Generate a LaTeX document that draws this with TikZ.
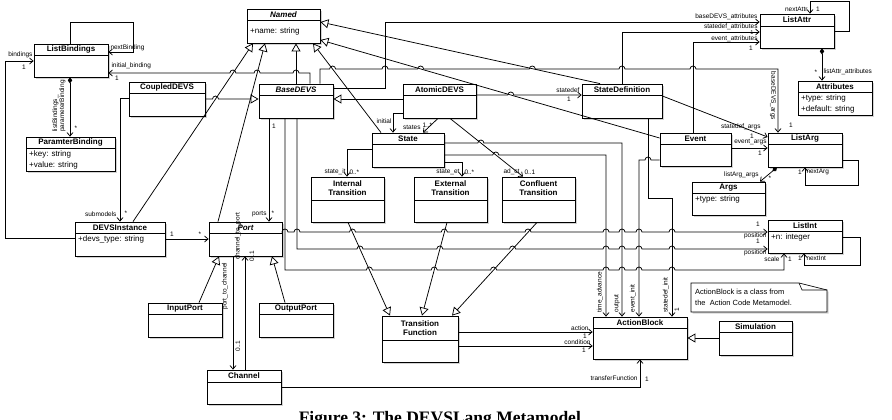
\documentclass[tikz,border=0pt]{standalone}
\usepackage{fontspec}
\setmainfont{Liberation Sans}
\newfontfamily\capfont{Liberation Serif}
\usetikzlibrary{arrows.meta,shadows}
\tikzset{
 cls/.style={draw, line width=0.8pt, fill=white, inner sep=0pt,
   drop shadow={shadow xshift=1.6pt, shadow yshift=-1.6pt, opacity=0.35}},
 ttl/.style={font=\fontsize{8}{9}\selectfont\bfseries, inner sep=0pt},
 attr/.style={font=\fontsize{8}{9}\selectfont, inner sep=0pt, anchor=west},
 lbl/.style={font=\fontsize{6.5}{7}\selectfont, inner sep=0.3pt},
 conn/.style={line width=0.75pt},
 assoc/.style={conn, -{Straight Barb[length=3.5pt,width=6pt]}},
 gen/.style={conn, -{Triangle[open,length=8pt,width=9pt,fill=white]}},
 comp/.style={conn, {Diamond[length=6pt,width=4.5pt]}-{Straight Barb[length=3.5pt,width=6pt]}},
}
\newcommand\umlcls[8]{%
 \node[cls, minimum width={(#4-#2)*1pt}, minimum height={(#5-#3)*1pt}] (#1) at ({(#2+#4)/2},{(#3+#5)/2}) {};
 \draw[line width=0.8pt] (#2,#6) -- (#4,#6);
 \node[ttl,align=center,#8] (#1-t) at ({(#2+#4)/2},{(#3+#6)/2}) {#7};
}
\begin{document}
\begin{tikzpicture}[x=1pt,y=-1pt]
\useasboundingbox (0,0) rectangle (892,420);
% ---------- classes ----------
\umlcls{named}{247}{9}{320}{43}{20}{Named}{font=\fontsize{8}{9}\selectfont\bfseries\itshape}
\node[attr] (named-a) at (250,31) {+name: string};
\umlcls{lb}{34}{44}{108}{77}{55}{ListBindings}{}
\umlcls{pb}{26}{137}{115}{171}{148}{ParamterBinding}{}
\node[attr] (pb-a) at (29,154) {+key: string};
\node[attr] (pb-b) at (29,165) {+value: string};
\umlcls{cd}{129}{82}{205}{116}{93}{CoupledDEVS}{}
\umlcls{bd}{259}{84}{333}{118}{95}{BaseDEVS}{font=\fontsize{8}{9}\selectfont\bfseries\itshape}
\umlcls{ad}{403}{84}{476}{118}{95}{AtomicDEVS}{}
\umlcls{sd}{582}{84}{662}{118}{95}{StateDefinition}{}
\umlcls{la}{760}{14}{834}{48}{26}{ListAttr}{}
\umlcls{at}{798}{81}{872}{115}{92}{Attributes}{}
\node[attr] (at-a) at (801,98) {+type: string};
\node[attr] (at-b) at (801,109) {+default: string};
\umlcls{st}{372}{133}{444}{167}{144}{State}{}
\umlcls{ev}{660}{133}{731}{166}{144}{Event}{}
\umlcls{larg}{768}{133}{842}{167}{144}{ListArg}{}
\umlcls{args}{692}{182}{765}{215}{193}{Args}{}
\node[attr] (args-a) at (695,199) {+type: string};
\umlcls{li}{768}{220}{842}{253}{231}{ListInt}{}
\node[attr] (li-a) at (771,237) {+n: integer};
\umlcls{it}{311}{177}{384}{222}{200}{Internal\\Transition}{}
\umlcls{et}{414}{177}{487}{222}{200}{External\\Transition}{}
\umlcls{ct}{502}{177}{575}{222}{200}{Confluent\\Transition}{}
\umlcls{di}{75}{222}{165}{256}{233}{DEVSInstance}{}
\node[attr] (di-a) at (78,239) {+devs\_type: string};
\umlcls{port}{209}{222}{282}{256}{233}{Port}{font=\fontsize{8}{9}\selectfont\bfseries\itshape}
\umlcls{ip}{148}{303}{222}{337}{314}{InputPort}{}
\umlcls{op}{259}{303}{333}{337}{314}{OutputPort}{}
\umlcls{ch}{207}{370}{281}{404}{382}{Channel}{}
\umlcls{tf}{382}{316}{458}{362}{340}{Transition\\Function}{}
\umlcls{ab}{593}{317}{687}{359}{328}{ActionBlock}{}
\umlcls{sim}{719}{321}{792}{355}{332}{Simulation}{}
% note
\draw[line width=0.7pt, fill=white, drop shadow={shadow xshift=1.6pt, shadow yshift=-1.6pt, opacity=0.35}]
  (691,283) -- (799,283) -- (827,290) -- (827,312) -- (691,312) -- cycle;
\draw[line width=0.6pt] (799,283) -- (802,290) -- (827,290);
\node[attr, align=left, font=\fontsize{7.5}{11}\selectfont] (note) at (695,297.5) {ActionBlock is a class from\\the\ \ Action Code Metamodel.};
% ---------- generalizations ----------
\draw[gen] (cd.east |- 0,99) foreach \h in {215.5} { -- (\h-3,99) arc[start angle=180,end angle=0,radius=3pt] } -- (bd.west |- 0,99);
\draw[gen] (ad.west |- 0,99) -- (bd.east |- 0,99);
\draw[gen] (bd.north -| 296,0) -- (named.south -| 296,0);
\draw[gen] (di.north -| 133,0) -- (named.south -| 253,0);
\draw[gen] (port.north -| 218,0) -- (named.south -| 265,0);
\draw[gen] (st.north -| 381,0) -- (named.south -| 313,0);
\draw[gen] (sd.north -| 600,0) -- (named.east |- 0,22);
\draw[gen] (ev.west |- 0,138) -- (named.east |- 0,40);
\draw[gen] (ip.north -| 199,0) -- (port.south -| 219,0);
\draw[gen] (op.north -| 285,0) -- (port.south -| 272,0);
\draw[gen] (it.south -| 348,0) -- (tf.north -| 390,0);
\draw[gen] (et.south -| 447,0) -- (tf.north -| 422,0);
\draw[gen] (ct.south -| 537,0) -- (tf.north -| 452,0);
\draw[gen] (sim.west |- 0,338) -- (ab.east |- 0,338);
% ---------- compositions ----------
\draw[comp] (lb.south -| 70,0) -- (pb.north -| 70,0);
\draw[comp] (la.south -| 822,0) -- (at.north -| 822,0);
\draw[comp] (larg.south -| 777,0) -- (args.north -| 760,0);
% ---------- associations ----------
\draw[assoc] (lb.north -| 70,0) |- (133,22) |- (lb.east |- 0,52);
\draw[assoc] (bd.north -| 310,0) -- (310,73) foreach \h in {296,257.1,232.9} { -- (\h+3,73) arc[start angle=0,end angle=180,radius=3pt] } -- (lb.east |- 0,73);
\draw[assoc] (di.west |- 0,238) -- (5,238) |- (lb.west |- 0,61);
\draw[assoc] (cd.west |- 0,98) -| (di.north -| 120,0);
\draw[assoc] (ad.east |- 0,95) foreach \h in {510.8} { -- (\h-3,95) arc[start angle=180,end angle=0,radius=3pt] } -- (sd.west |- 0,95);
\draw[assoc] (bd.east |- 0,88) -| (385,22) -- (la.west |- 0,22);
\draw[assoc] (sd.north -| 622,0) |- (la.west |- 0,32);
\draw[assoc] (ev.north -| 693,0) |- (la.west |- 0,42);
\draw[assoc] (la.east |- 0,31) -| (849,1) -| (la.north -| 810,0);
\draw[assoc] (bd.north -| 320,0) -- (320,69) foreach \h in {332.6,385,420.6,532.3,622,693} { -- (\h-3,69) arc[start angle=180,end angle=0,radius=3pt] } -- (778,69) -- (larg.north -| 778,0);
\draw[assoc] (sd.east |- 0,96) -- (larg.west |- 0,137);
\draw[assoc] (ev.east |- 0,148) -- (larg.west |- 0,148);
\draw[assoc] (larg.east |- 0,160) -| (858,185) -| (larg.south -| 805,0);
\draw[assoc] (li.east |- 0,237) -| (860,265) -| (li.south -| 804,0);
\draw[assoc] (port.east |- 0,232) foreach \h in {285,297,352.5,444.3,528,606,622,639,672} { -- (\h-3,232) arc[start angle=180,end angle=0,radius=3pt] } -- (li.west |- 0,232);
\draw[assoc] (bd.south -| 297,0) -- (297,249) foreach \h in {360,439.8,512.6,606,622,639,672} { -- (\h-3,249) arc[start angle=180,end angle=0,radius=3pt] } -- (li.west |- 0,249);
\draw[assoc] (bd.south -| 285,0) -- (285,270) foreach \h in {369.4,434.2,493.6,606,622,639,672} { -- (\h-3,270) arc[start angle=180,end angle=0,radius=3pt] } -- (784,270) -- (li.south -| 784,0);
\draw[assoc] (bd.south -| 269,0) -- (port.north -| 269,0);
\draw[assoc] (di.east |- 0,239) -- (port.west |- 0,239);
\draw[assoc] (port.south -| 233,0) -- (ch.north -| 233,0);
\draw[assoc] (ch.north -| 245,0) -- (port.south -| 245,0);
\draw[assoc] (st.west |- 0,149) -| (it.north -| 347,0);
\draw[assoc] (st.east |- 0,162) -| (et.north -| 462,0);
\draw[assoc] (ad.south -| 450,0) -- (ct.north -| 523,0);
\draw[assoc] (ad.west |- 0,113) -| (st.north -| 393,0);
\draw[assoc] (ad.south -| 438,0) -- (st.north -| 423,0);
\draw[assoc] (st.east |- 0,155) foreach \h in {495.8} { -- (\h-3,155) arc[start angle=180,end angle=0,radius=3pt] } -| (ab.north -| 606,0);
\draw[assoc] (st.east |- 0,143) foreach \h in {480.9} { -- (\h-3,143) arc[start angle=180,end angle=0,radius=3pt] } -| (ab.north -| 622,0);
\draw[assoc] (ev.west |- 0,160) foreach \h in {648} { -- (\h+3,160) arc[start angle=0,end angle=180,radius=3pt] } -| (ab.north -| 639,0);
\draw[assoc] (sd.south -| 648,0) |- (672,198) -- (ab.north -| 672,0);
\draw[assoc] (tf.east |- 0,332) -- (ab.west |- 0,332);
\draw[assoc] (tf.east |- 0,346) -- (ab.west |- 0,346);
\draw[assoc] (ch.east |- 0,387) -| (ab.south -| 640,0);
% ---------- labels ----------
\node[lbl, anchor=west] (l1) at (110,48) {nextBinding};
\node[lbl, anchor=west] (l2) at (111,66) {initial\_binding};
\node[lbl] (l3) at (117,78) {1};
\node[lbl, anchor=east] (l4) at (33,55) {bindings};
\node[lbl] (l5) at (24,67) {1};
\node[lbl, rotate=90, align=left] (l6) at (59,106) {listBindings\_\\parameterBinding};
\node[lbl] (l7) at (76,128) {*};
\node[lbl, anchor=east] (l8) at (117,214) {submodels};
\node[lbl] (l9) at (126,213) {*};
\node[lbl, anchor=east] (l10) at (580,90) {statedef};
\node[lbl] (l11) at (569,99) {1};
\node[lbl, anchor=south east] (l12) at (758,20) {baseDEVS\_attributes};
\node[lbl, anchor=south east] (l13) at (758,30) {statedef\_attributes};
\node[lbl, anchor=south east] (l14) at (758,42.6) {event\_attributes};
\node[lbl, font=\fontsize{5.5}{6}\selectfont] (l15) at (752,32.6) {1};
\node[lbl] (l16) at (751,48) {1};
\node[lbl, anchor=east] (l17) at (808,9) {nextAttr};
\node[lbl] (l18) at (818,9) {1};
\node[lbl] (l19) at (816,72) {*};
\node[lbl, anchor=west] (l20) at (823,72) {listAttr\_attributes};
\node[lbl, rotate=-90] (l21) at (773,96) {baseDEVS\_args};
\node[lbl] (l22) at (791,125) {1};
\node[lbl, anchor=east] (l23) at (761,127) {statedef\_args};
\node[lbl] (l24) at (752,136) {1};
\node[lbl, anchor=east] (l25) at (767,142) {event\_args};
\node[lbl] (l26) at (760,153) {1};
\node[lbl] (l27) at (800,172) {1};
\node[lbl, anchor=west] (l28) at (806,172) {nextArg};
\node[lbl, anchor=east] (l29) at (759,175) {listArg\_args};
\node[lbl] (l30) at (770,178) {*};
\node[lbl] (l31) at (800,258) {1};
\node[lbl, anchor=west] (l32) at (806,258) {nextInt};
\node[lbl] (l33) at (758,224) {1};
\node[lbl, anchor=east] (l34) at (767,236) {position};
\node[lbl] (l35) at (758,241) {1};
\node[lbl, anchor=east] (l36) at (767,253) {position};
\node[lbl, anchor=east] (l37) at (780,259) {scale};
\node[lbl] (l38) at (790,259) {1};
\node[lbl] (l39) at (274,126) {1};
\node[lbl, anchor=east] (l40) at (267,214) {ports};
\node[lbl] (l41) at (273,213) {*};
\node[lbl] (l42) at (172,234) {1};
\node[lbl] (l43) at (200,234) {*};
\node[lbl, rotate=90, anchor=west] (l44) at (225,310) {port\_to\_channel};
\node[lbl, rotate=90, anchor=west] (l45) at (238,260) {channel\_to\_port};
\node[lbl, rotate=90, anchor=west] (l46) at (238,352) {0..1};
\node[lbl, rotate=90, anchor=west] (l47) at (252,262) {0..1};
\node[lbl, anchor=east] (l48) at (346,172) {state\_it};
\node[lbl, anchor=west] (l49) at (349,172) {0..*};
\node[lbl, anchor=east] (l50) at (460,172) {state\_et};
\node[lbl, anchor=west] (l51) at (464,172) {0..*};
\node[lbl, anchor=east] (l52) at (520,172) {ad\_ct};
\node[lbl, anchor=west] (l53) at (524,172) {0..1};
\node[lbl, anchor=east] (l54) at (392,121) {initial};
\node[lbl, anchor=east] (l55) at (421,127) {states};
\node[lbl, anchor=west] (l56) at (422,125) {1..*};
\node[lbl, rotate=90, anchor=west] (l57) at (600,313) {time\_advance};
\node[lbl, rotate=90, anchor=west] (l58) at (617,313) {output};
\node[lbl, rotate=90, anchor=west] (l59) at (633,313) {event\_init};
\node[lbl, rotate=90, anchor=west] (l60) at (666,313) {statedef\_init};
\node[lbl, rotate=90] (l67) at (677,310) {1};
\node[lbl, anchor=east] (l61) at (589,328) {action};
\node[lbl] (l62) at (585,336) {1};
\node[lbl, anchor=east] (l63) at (591,342) {condition};
\node[lbl] (l64) at (584,350) {1};
\node[lbl, anchor=east] (l65) at (638,378) {transferFunction};
\node[lbl] (l66) at (647,379) {1};
% caption
\node[font=\capfont\bfseries\fontsize{17.5}{20}\selectfont, inner sep=0pt, anchor=base] (cap) at (442,423.5) {Figure 3: The DEVSLang Metamodel.};
\end{tikzpicture}
\end{document}
